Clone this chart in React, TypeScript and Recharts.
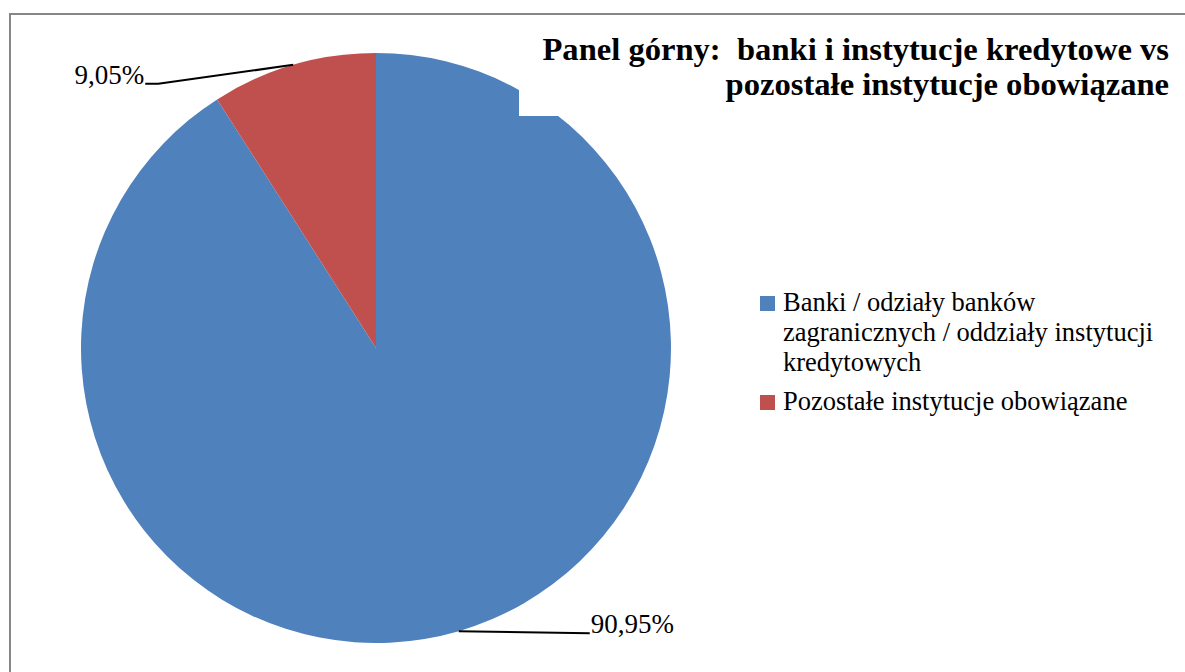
import React from "react";
import { PieChart, Pie, Cell, Legend } from "recharts";

const categories = [
  "Banki / odziały banków zagranicznych / oddziały instytucji kredytowych",
  "Pozostałe instytucje obowiązane",
];
const shares = [90.95, 9.05];
const colors = ["#4F81BD", "#C0504D"];

const pieData = categories.map((name, i) => ({ name, value: shares[i] }));

const RADIAN = Math.PI / 180;
const serif = '"Liberation Serif", "Times New Roman", serif';

// leader line geometry per slice: elbow offset from the rim, then a short run
const leaders = [
  { dx: 131, dy: 2, run: 0, side: 1 },
  { dx: -135, dy: 19, run: 13, side: -1 },
];

const formatPct = (v: number) => `${v.toFixed(2).replace(".", ",")}%`;

const renderLabel = (props: any) => {
  const { cx, cy, midAngle, outerRadius, index, value } = props;
  const sx = cx + outerRadius * Math.cos(-midAngle * RADIAN);
  const sy = cy + outerRadius * Math.sin(-midAngle * RADIAN);
  const l = leaders[index];
  const mx = sx + l.dx;
  const my = sy + l.dy;
  const ex = mx + l.side * l.run;
  return (
    <g key={`lbl-${index}`}>
      <path d={`M${sx},${sy}L${mx},${my}L${ex},${my}`} stroke="#000" strokeWidth={2} fill="none" />
      <text
        x={ex + l.side * 1}
        y={my}
        textAnchor={l.side > 0 ? "start" : "end"}
        style={{ fontFamily: serif, fontSize: 27 }}
        fill="#000"
      >
        {formatPct(value)}
      </text>
    </g>
  );
};

const renderLegend = () => (
  <div style={{ fontFamily: serif, fontSize: 26.5, lineHeight: "30px", color: "#000" }}>
    {categories.map((name, i) => (
      <div key={name} style={{ display: "flex", alignItems: "flex-start", marginBottom: 9 }}>
        <span
          style={{
            display: "inline-block",
            width: 15,
            height: 15,
            background: colors[i],
            marginTop: 9,
            marginRight: 8,
            flex: "none",
          }}
        />
        <span style={{ width: 385 }}>{name}</span>
      </div>
    ))}
  </div>
);

export default function App() {
  return (
    <div style={{ position: "fixed", left: 0, top: 0, width: 1185, height: 672, overflow: "hidden", background: "#fff" }}>
      <div
        style={{
          position: "absolute",
          left: 9,
          top: 13,
          width: 1200,
          height: 700,
          border: "2px solid #868686",
          boxSizing: "border-box",
        }}
      />
      <div style={{ position: "absolute", left: 0, top: 0 }}>
        <PieChart width={1185} height={672} margin={{ top: 0, right: 0, bottom: 0, left: 0 }}>
          <Pie
            data={pieData}
            dataKey="value"
            nameKey="name"
            cx={376}
            cy={348}
            outerRadius={295}
            startAngle={90}
            endAngle={-270}
            stroke="none"
            labelLine={false}
            label={renderLabel}
            isAnimationActive={false}
          >
            {pieData.map((entry, i) => (
              <Cell key={`cell-${i}`} fill={colors[i]} />
            ))}
          </Pie>
          <Legend
            layout="vertical"
            verticalAlign="middle"
            align="right"
            content={renderLegend}
            wrapperStyle={{ left: 760, top: 287, right: "auto", width: 420 }}
          />
        </PieChart>
      </div>
      <div
        style={{
          position: "absolute",
          left: 519,
          top: 28,
          width: 650,
          height: 88,
          background: "#fff",
          fontFamily: serif,
          fontWeight: "bold",
          fontSize: 32.6,
          lineHeight: "35px",
          textAlign: "right",
          color: "#000",
          paddingTop: 4,
          boxSizing: "border-box",
          whiteSpace: "pre",
        }}
      >
        {"Panel górny:  banki i instytucje kredytowe vs\npozostałe instytucje obowiązane"}
      </div>
    </div>
  );
}
